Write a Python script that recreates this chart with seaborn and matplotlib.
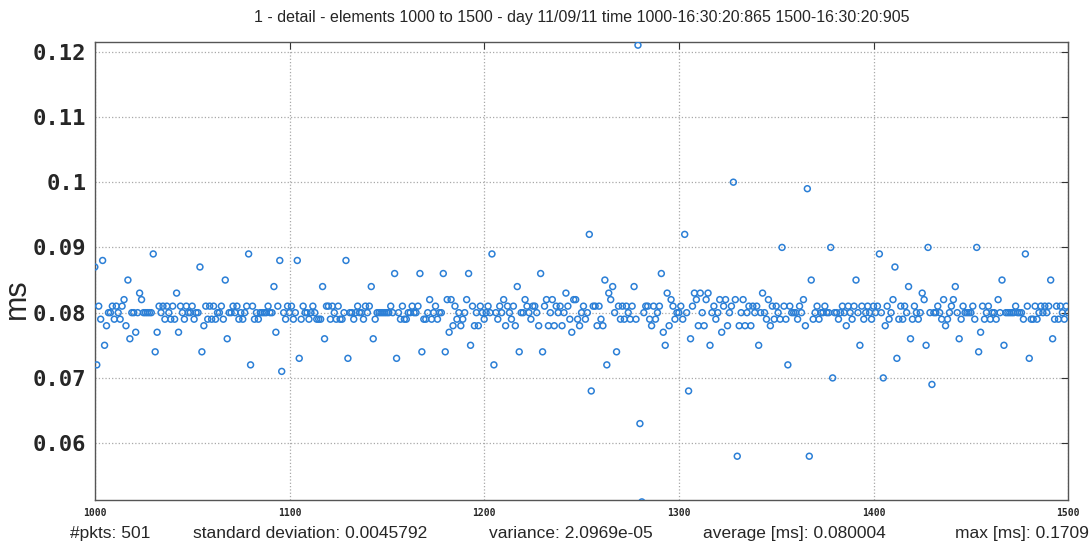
import matplotlib
matplotlib.use('Agg')
import matplotlib.pyplot as plt
import numpy as np
import pandas as pd
import seaborn as sns

# delay values in microseconds, one list per 50 elements
block_1000 = [87, 72, 81, 79, 88, 75, 78, 80, 80, 81, 79, 81, 80, 79, 81, 82, 78, 85, 76, 80,
              80, 77, 80, 83, 82, 80, 80, 80, 80, 80, 89, 74, 77, 81, 80, 81, 79, 81, 80, 79,
              81, 79, 83, 77, 81, 80, 79, 81, 80, 80]
block_1050 = [81, 79, 80, 80, 87, 74, 78, 81, 79, 81, 79, 81, 79, 80, 80, 81, 79, 85, 76, 80,
              80, 81, 80, 81, 79, 80, 79, 80, 81, 89, 72, 81, 79, 80, 79, 80, 80, 80, 80, 81,
              80, 80, 84, 77, 81, 88, 71, 80, 79, 81]
block_1100 = [80, 81, 79, 80, 88, 73, 79, 81, 80, 80, 79, 80, 81, 80, 79, 79, 79, 84, 76, 81,
              81, 79, 81, 80, 79, 81, 79, 79, 80, 88, 73, 80, 80, 79, 80, 81, 80, 80, 79, 81,
              80, 81, 84, 76, 79, 80, 80, 80, 80, 80]
block_1150 = [80, 80, 81, 80, 86, 73, 80, 79, 81, 79, 79, 80, 80, 81, 80, 80, 81, 86, 74, 79,
              79, 80, 82, 79, 80, 81, 79, 80, 80, 86, 74, 82, 77, 82, 78, 81, 79, 80, 78, 79,
              80, 82, 86, 75, 81, 78, 80, 78, 81, 80]
block_1200 = [79, 80, 81, 80, 89, 72, 80, 79, 81, 80, 82, 78, 81, 80, 79, 81, 78, 84, 74, 80,
              80, 82, 81, 80, 79, 81, 81, 80, 78, 86, 74, 81, 82, 78, 80, 82, 78, 81, 80, 81,
              78, 80, 83, 81, 79, 77, 82, 82, 79, 78]
block_1250 = [80, 81, 79, 80, 92, 68, 81, 81, 78, 81, 79, 78, 85, 72, 83, 82, 84, 80, 74, 81,
              79, 81, 79, 81, 80, 79, 81, 84, 79, 121, 63, 51, 80, 81, 81, 79, 78, 81, 79, 80,
              81, 86, 77, 75, 83, 78, 82, 81, 79, 80]
block_1300 = [80, 81, 79, 92, 80, 68, 76, 81, 83, 82, 78, 83, 80, 78, 82, 83, 75, 80, 81, 79,
              80, 82, 77, 81, 82, 78, 80, 81, 100, 82, 58, 78, 80, 82, 78, 80, 81, 78, 81, 80,
              81, 75, 80, 83, 80, 79, 82, 78, 81, 79]
block_1350 = [81, 80, 79, 90, 81, 79, 72, 81, 80, 80, 80, 79, 81, 80, 82, 78, 99, 58, 85, 79,
              80, 81, 79, 80, 80, 81, 80, 80, 90, 70, 80, 80, 79, 80, 81, 80, 78, 81, 80, 79,
              81, 85, 80, 75, 81, 79, 80, 81, 80, 79]
block_1400 = [81, 80, 81, 89, 80, 70, 78, 81, 79, 80, 82, 87, 73, 79, 81, 79, 81, 80, 84, 76,
              79, 81, 80, 79, 80, 83, 82, 75, 90, 80, 69, 80, 80, 81, 80, 79, 82, 78, 79, 80,
              81, 82, 84, 80, 76, 79, 81, 80, 80, 80]
block_1450 = [80, 81, 79, 90, 74, 77, 81, 79, 80, 81, 79, 80, 80, 79, 82, 80, 85, 75, 80, 80,
              80, 80, 80, 81, 80, 80, 80, 79, 89, 81, 73, 79, 79, 81, 79, 80, 81, 80, 81, 80,
              81, 85, 76, 79, 81, 79, 81, 80, 79, 81, 80]

x_ticks = [1000, 1100, 1200, 1300, 1400, 1500]
y_ticks = [0.06, 0.07, 0.08, 0.09, 0.10, 0.11, 0.12]
y_tick_labels = ['0.06', '0.07', '0.08', '0.09', '0.1', '0.11', '0.12']

title = '1 - detail - elements 1000 to 1500 - day 11/09/11 time 1000-16:30:20:865 1500-16:30:20:905'
stats = ['#pkts: 501', 'standard deviation: 0.0045792', 'variance: 2.0969e-05',
         'average [ms]: 0.080004', 'max [ms]: 0.1709']

us = (block_1000 + block_1050 + block_1100 + block_1150 + block_1200 +
      block_1250 + block_1300 + block_1350 + block_1400 + block_1450)
df = pd.DataFrame({'element': np.arange(1000, 1000 + len(us)),
                   'ms': np.array(us) / 1000.0})

sns.set_style('white')
plt.rcParams['font.family'] = ['Liberation Sans', 'DejaVu Sans']

fig = plt.figure(figsize=(10.9, 5.44), dpi=100)
ax = fig.add_axes([0.087, 0.081, 0.893, 0.842])

sns.scatterplot(x='element', y='ms', data=df, ax=ax, marker='o', s=18,
                facecolor='none', edgecolor='#2b7fd6', linewidth=1.1, zorder=3)

ax.set_xlim(1000, 1500)
ax.set_ylim(0.0513, 0.1215)
ax.set_xticks(x_ticks)
ax.set_xticklabels([str(t) for t in x_ticks], family='DejaVu Sans Mono',
                   fontweight='bold', fontsize=7)
ax.set_yticks(y_ticks)
ax.set_yticklabels(y_tick_labels, family='DejaVu Sans Mono', fontweight='bold', fontsize=16)
ax.tick_params(direction='in', length=5, width=0.8, color='#333333',
               top=True, right=True, pad=6)
ax.grid(True, linestyle=':', color='#a8a8a8', linewidth=0.9)
for sp in ax.spines.values():
    sp.set_color('#555555')
    sp.set_linewidth(1.0)

ax.set_xlabel('')
ax.set_ylabel('ms', fontsize=22)
ax.yaxis.set_label_coords(-0.065, 0.44)
ax.set_title(title, fontsize=11.5, pad=14)

xpos = [0.064, 0.177, 0.449, 0.645]
for x, s in zip(xpos, stats[:4]):
    fig.text(x, 0.02, s, fontsize=12.5, ha='left', va='center')
fig.text(0.999, 0.02, stats[4], fontsize=12.5, ha='right', va='center')

fig.savefig('out.png', dpi=100)
